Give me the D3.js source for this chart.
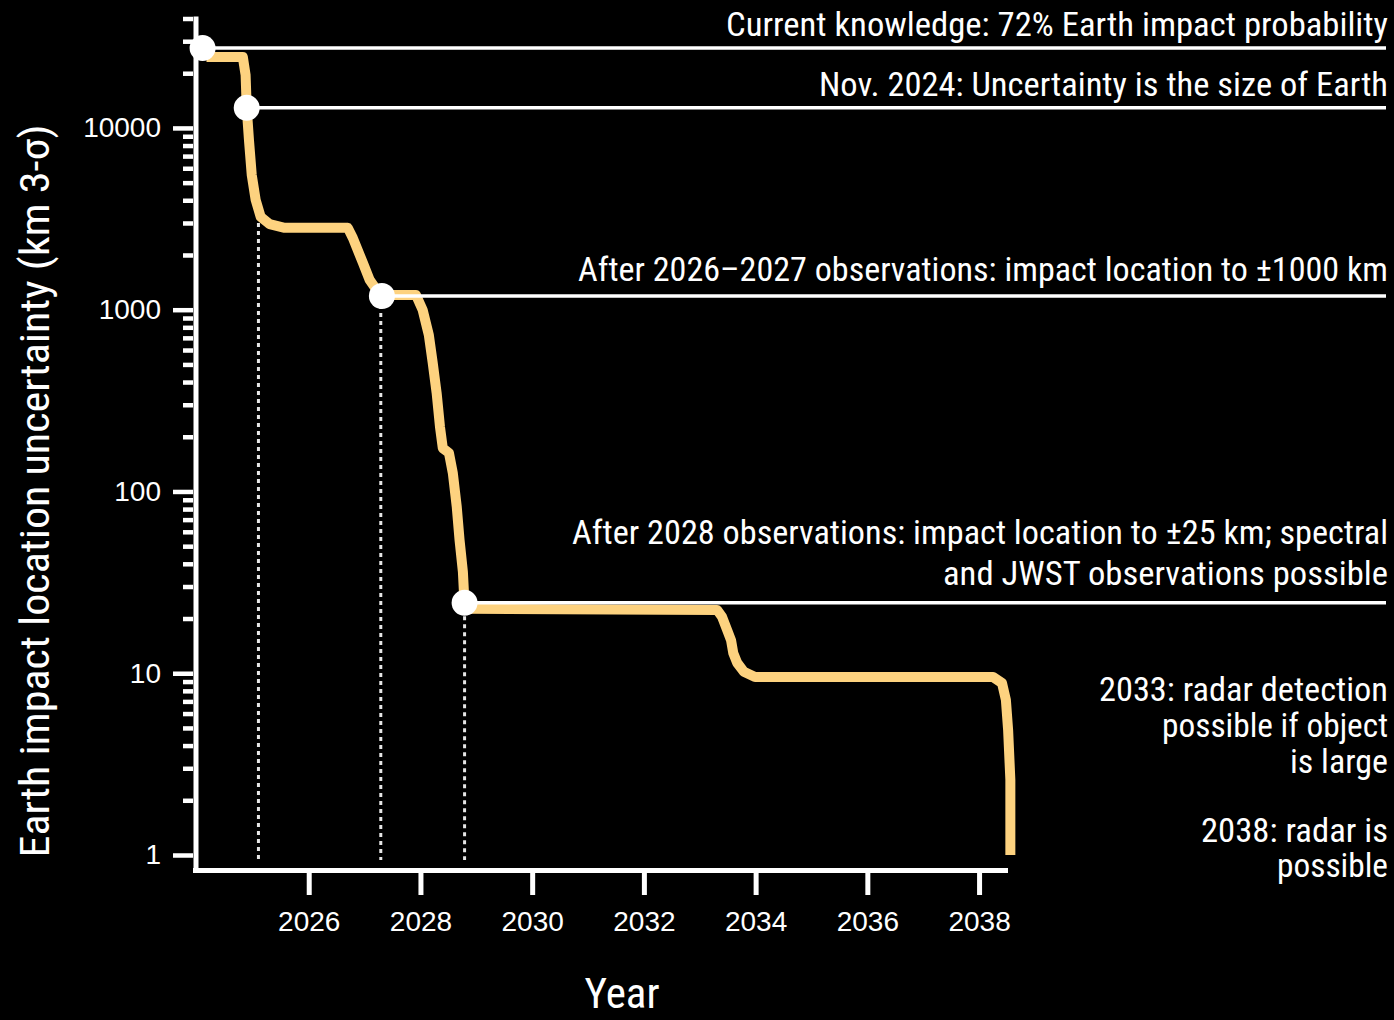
<!DOCTYPE html>
<html>
<head>
<meta charset="utf-8">
<script src="https://cdn.jsdelivr.net/npm/d3@7"></script>
<style>
  html, body { margin: 0; padding: 0; background: #000; }
  svg { display: block; }
  .narrow { font-family: "Roboto Condensed", Roboto, "Liberation Sans", sans-serif; font-stretch: condensed; }
  .tick text { font-family: "Liberation Sans", Arial, sans-serif; }
</style>
</head>
<body>
<svg id="chart" width="1394" height="1020"></svg>
<script>
// ---------- Data ----------
const curveYears = [2024.17, 2024.82, 2024.87, 2024.89, 2024.93, 2024.98, 2025.05, 2025.14, 2025.30, 2025.57,
  2026.70, 2026.79, 2026.97, 2027.09, 2027.24, 2027.33, 2027.92, 2028.04, 2028.15, 2028.22,
  2028.29, 2028.35, 2028.40, 2028.51, 2028.58, 2028.65, 2028.70, 2028.76, 2028.79, 2028.88,
  2033.31, 2033.40, 2033.49, 2033.56, 2033.60, 2033.67, 2033.79, 2033.99, 2038.25, 2038.41,
  2038.48, 2038.52, 2038.56, 2038.56];
const curveValues = [24600, 24600, 19580, 12900, 8590, 5510, 4020, 3240, 2960, 2820,
  2820, 2480, 1808, 1460, 1253, 1205, 1205, 997, 726, 509,
  348, 226, 173, 163, 126, 82.2, 54.1, 36.1, 23.7, 22.6,
  22.3, 20.4, 17.3, 15.2, 12.9, 11.4, 10.2, 9.53, 9.53, 8.84,
  7.13, 4.87, 2.59, 1];

const milestoneYears = [2024.10, 2024.89, 2027.31, 2028.79];
const milestoneValues = [27500, 12900, 1190, 24.4];

const guideYears = [2025.10, 2027.29, 2028.79];
const guideTopValues = [3000, 1062, 20.6];
const guideBottomValue = 0.94;

const xTickValues = [2026, 2028, 2030, 2032, 2034, 2036, 2038];
const yMajorTicks = [1, 10, 100, 1000, 10000];
const yMajorLabels = ["1", "10", "100", "1000", "10000"];
const yMinorTicks = [2,3,4,5,6,7,8,9,20,30,40,50,60,70,80,90,200,300,400,500,600,700,800,900,
  2000,3000,4000,5000,6000,7000,8000,9000,20000,30000,40000];

const annotationLines = [
  "Current knowledge: 72% Earth impact probability",
  "Nov. 2024: Uncertainty is the size of Earth",
  "After 2026\u20132027 observations: impact location to \u00b11000 km",
  "After 2028 observations: impact location to \u00b125 km; spectral",
  "and JWST observations possible",
  "2033: radar detection",
  "possible if object",
  "is large",
  "2038: radar is",
  "possible"
];
const annotationBaselines = [36, 96, 281, 544, 585, 701, 737, 773, 842, 877];
const annotationWidths = [662, 569, 810, 816, 445, 289, 226, 98, 187, 111];

const yAxisTitle = "Earth impact location uncertainty (km 3-\u03c3)";
const xAxisTitle = "Year";

// ---------- Scales ----------
const svg = d3.select("#chart");
svg.append("rect").attr("width", 1394).attr("height", 1020).attr("fill", "#000");

const x = d3.scaleLinear().domain([2024, 2038.5]).range([197, 1007]);
const y = d3.scaleLog().domain([1, 40000]).range([855, 18.5]);

const axisX0 = 193;   // left edge of y axis line
const axisY0 = 873;   // bottom edge of x axis line

// fit a text to its target width
function fitWidth(sel, widthFn) {
  sel.each(function(d, i) {
    d3.select(this).attr("textLength", widthFn(d, i)).attr("lengthAdjust", "spacingAndGlyphs");
  });
}

// ---------- Y axis ----------
const yMajorAxis = d3.axisLeft(y).tickValues(yMajorTicks)
  .tickFormat((d, i) => yMajorLabels[i]).tickSize(20).tickSizeOuter(0).tickPadding(12);
const gy = svg.append("g").attr("transform", `translate(${axisX0},0)`).call(yMajorAxis);
gy.attr("font-family", null);
gy.select(".domain").remove();
gy.selectAll(".tick line").attr("stroke", "#fff").attr("stroke-width", 4.5);
gy.selectAll(".tick text").attr("fill", "#fff").style("font-size", "28px");

const yMinorAxis = d3.axisLeft(y).tickValues(yMinorTicks).tickFormat("").tickSize(10).tickSizeOuter(0);
const gym = svg.append("g").attr("transform", `translate(${axisX0},0)`).call(yMinorAxis);
gym.select(".domain").remove();
gym.selectAll(".tick text").remove();
gym.selectAll(".tick line").attr("stroke", "#fff").attr("stroke-width", 4.5);

// ---------- X axis ----------
const xAxis = d3.axisBottom(x).tickValues(xTickValues).tickFormat(d3.format("d"))
  .tickSize(22).tickSizeOuter(0).tickPadding(16);
const gx = svg.append("g").attr("transform", `translate(0,${axisY0})`).call(xAxis);
gx.attr("font-family", null);
gx.select(".domain").remove();
gx.selectAll(".tick line").attr("stroke", "#fff").attr("stroke-width", 5);
gx.selectAll(".tick text").attr("fill", "#fff").style("font-size", "28px");

// axis lines
svg.append("line").attr("x1", axisX0 + 3).attr("x2", axisX0 + 3)
  .attr("y1", y(40000) - 2).attr("y2", axisY0)
  .attr("stroke", "#fff").attr("stroke-width", 5);
svg.append("line").attr("x1", axisX0).attr("x2", x(2038.5) + 1)
  .attr("y1", axisY0 - 2.5).attr("y2", axisY0 - 2.5)
  .attr("stroke", "#fff").attr("stroke-width", 5);

// ---------- Dotted guides ----------
svg.append("g").selectAll("line").data(guideYears).join("line")
  .attr("x1", d => x(d)).attr("x2", d => x(d))
  .attr("y1", (d, i) => y(guideTopValues[i])).attr("y2", y(guideBottomValue))
  .attr("stroke", "#e6e6e6").attr("stroke-width", 3).attr("stroke-dasharray", "4,4");

// ---------- Curve ----------
const curveData = curveYears.map((yr, i) => [yr, curveValues[i]]);
const line = d3.line().x(d => x(d[0])).y(d => y(d[1]));
svg.append("path").datum(curveData).attr("d", line)
  .attr("fill", "none").attr("stroke", "#fdd27f").attr("stroke-width", 10)
  .attr("stroke-linejoin", "round").attr("stroke-linecap", "butt");

// ---------- Milestone lines and dots ----------
const rightEdge = 1386;
svg.append("g").selectAll("line").data(milestoneYears).join("line")
  .attr("x1", d => x(d)).attr("x2", rightEdge)
  .attr("y1", (d, i) => y(milestoneValues[i])).attr("y2", (d, i) => y(milestoneValues[i]))
  .attr("stroke", "#fff").attr("stroke-width", 3.5);
svg.append("g").selectAll("circle").data(milestoneYears).join("circle")
  .attr("cx", d => x(d)).attr("cy", (d, i) => y(milestoneValues[i])).attr("r", 13)
  .attr("fill", "#fff");

// ---------- Annotations ----------
const ann = svg.append("g").selectAll("text").data(annotationLines).join("text")
  .attr("class", "narrow")
  .attr("x", 1388).attr("y", (d, i) => annotationBaselines[i])
  .attr("text-anchor", "end").attr("fill", "#fff")
  .style("font-size", "33px")
  .text(d => d);
fitWidth(ann, (d, i) => annotationWidths[i]);

// ---------- Axis titles ----------
const yt = svg.append("text").attr("class", "narrow")
  .attr("transform", "translate(49,491) rotate(-90)")
  .attr("text-anchor", "middle").attr("fill", "#fff")
  .style("font-size", "41px")
  .text(yAxisTitle);
fitWidth(yt, () => 733);

svg.append("text").attr("class", "narrow")
  .attr("x", 622).attr("y", 1008)
  .attr("text-anchor", "middle").attr("fill", "#fff")
  .style("font-size", "43px")
  .text(xAxisTitle);
</script>
</body>
</html>
